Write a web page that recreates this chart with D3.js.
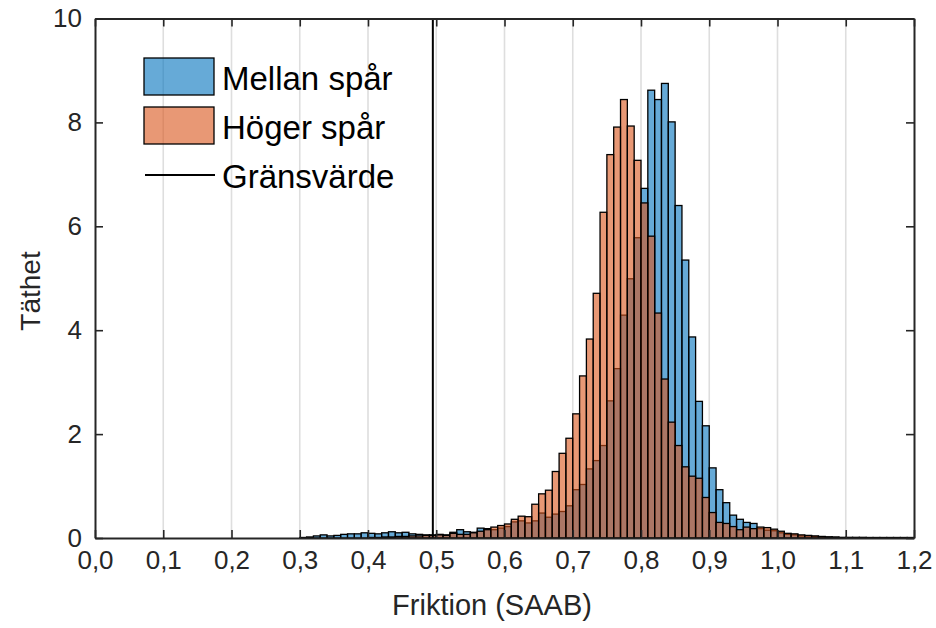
<!DOCTYPE html>
<html>
<head>
<meta charset="utf-8">
<script src="https://cdn.jsdelivr.net/npm/d3@7"></script>
<style>
  body { margin: 0; background: #fff; }
  svg { display: block; font-family: "Liberation Sans", Arial, sans-serif; }
</style>
</head>
<body>
<svg id="chart"></svg>
<script>
// bin left edges, 0.01 wide
let binEdges = d3.range(90).map(i => Math.round((0.30 + i * 0.01) * 100) / 100)

let mellan = [
  0.01, 0.02, 0.04, 0.06, 0.04, 0.05, 0.07, 0.08, 0.08, 0.10,
  0.09, 0.08, 0.10, 0.12, 0.10, 0.11, 0.08, 0.07, 0.06, 0.06,
  0.07, 0.06, 0.11, 0.16, 0.12, 0.11, 0.19, 0.18, 0.16, 0.19,
  0.22, 0.31, 0.33, 0.29, 0.33, 0.48, 0.40, 0.46, 0.51, 0.62,
  0.93, 1.03, 1.33, 1.49, 1.78, 2.64, 3.26, 4.29, 4.99, 5.78,
  6.73, 8.62, 8.44, 8.75, 8.01, 6.40, 5.35, 3.87, 2.63, 2.16,
  1.35, 0.93, 0.68, 0.44, 0.36, 0.30, 0.28, 0.18, 0.15, 0.14,
  0.10, 0.07, 0.06, 0.04, 0.04, 0.03, 0.02, 0.02, 0.01, 0.01,
  0.01, 0.01, 0.01, 0.00, 0.00, 0.00, 0.00, 0.00, 0.00, 0.00
]

let hoger = [
  0.00, 0.00, 0.00, 0.00, 0.00, 0.00, 0.00, 0.00, 0.00, 0.00,
  0.01, 0.01, 0.02, 0.02, 0.03, 0.03, 0.04, 0.04, 0.05, 0.05,
  0.06, 0.05, 0.09, 0.07, 0.07, 0.10, 0.13, 0.16, 0.21, 0.24,
  0.27, 0.36, 0.42, 0.41, 0.65, 0.85, 0.92, 1.28, 1.63, 1.92,
  2.39, 3.12, 3.83, 4.71, 6.27, 7.38, 7.91, 8.44, 7.93, 7.27,
  6.45, 5.81, 4.33, 3.06, 2.23, 1.78, 1.37, 1.19, 1.15, 0.78,
  0.49, 0.30, 0.28, 0.22, 0.16, 0.21, 0.18, 0.21, 0.20, 0.17,
  0.13, 0.09, 0.08, 0.06, 0.05, 0.04, 0.03, 0.02, 0.02, 0.01,
  0.01, 0.01, 0.01, 0.01, 0.01, 0.01, 0.01, 0.01, 0.01, 0.01
]

let binWidth = 0.01
let threshold = 0.495

let xTicks = [0, 0.1, 0.2, 0.3, 0.4, 0.5, 0.6, 0.7, 0.8, 0.9, 1.0, 1.1, 1.2]
let yTicks = [0, 2, 4, 6, 8, 10]

let seriesNames = ["Mellan spår", "Höger spår", "Gränsvärde"]
let seriesColors = ["#0072BD", "#D95319"]

let width = 936
let height = 628
let plotLeft = 95, plotRight = 914, plotTop = 18.5, plotBottom = 538
let axisColor = "#262626"

let svg = d3.select('#chart').attr('width', width).attr('height', height)

let xScale = d3.scaleLinear().domain([0, 1.2]).range([plotLeft, plotRight])
let yScale = d3.scaleLinear().domain([0, 10]).range([plotBottom, plotTop])

// grid (vertical only)
svg.append('g')
  .selectAll('line')
  .data(xTicks.slice(1, -1))
  .enter()
  .append('line')
  .attr('x1', d => xScale(d)).attr('x2', d => xScale(d))
  .attr('y1', plotTop).attr('y2', plotBottom)
  .attr('stroke', '#dedede')
  .attr('stroke-width', 1.6)

let drawBars = (values, color) => {
  svg.append('g')
    .selectAll('rect')
    .data(values.map((v, i) => ({ x0: binEdges[i], v: v })).filter(d => d.v > 0))
    .enter()
    .append('rect')
    .attr('x', d => xScale(d.x0))
    .attr('width', d => xScale(d.x0 + binWidth) - xScale(d.x0))
    .attr('y', d => yScale(d.v))
    .attr('height', d => yScale(0) - yScale(d.v))
    .attr('fill', color)
    .attr('fill-opacity', 0.6)
    .attr('stroke', '#000')
    .attr('stroke-width', 1.3)
}

drawBars(mellan, seriesColors[0])
drawBars(hoger, seriesColors[1])

// threshold line
svg.append('line')
  .attr('x1', xScale(threshold)).attr('x2', xScale(threshold))
  .attr('y1', yScale(10)).attr('y2', yScale(0))
  .attr('stroke', '#000')
  .attr('stroke-width', 2)

// axes
let fmt = d => d3.format('.1f')(d).replace('.', ',')

svg.append('g')
  .attr('transform', 'translate(0,' + plotBottom + ')')
  .call(d3.axisBottom(xScale).tickValues(xTicks).tickFormat(fmt).tickSizeInner(-8).tickSizeOuter(0).tickPadding(13))
svg.append('g')
  .attr('transform', 'translate(0,' + plotTop + ')')
  .call(d3.axisTop(xScale).tickValues(xTicks).tickFormat('').tickSizeInner(-8).tickSizeOuter(0))
svg.append('g')
  .attr('transform', 'translate(' + plotLeft + ',0)')
  .call(d3.axisLeft(yScale).tickValues(yTicks).tickSizeInner(-8).tickSizeOuter(0).tickPadding(13))
svg.append('g')
  .attr('transform', 'translate(' + plotRight + ',0)')
  .call(d3.axisRight(yScale).tickValues(yTicks).tickFormat('').tickSizeInner(-8).tickSizeOuter(0))

svg.selectAll('.domain').attr('stroke', axisColor).attr('stroke-width', 2)
svg.selectAll('.tick line').attr('stroke', axisColor).attr('stroke-width', 1.6)
svg.selectAll('.tick text')
  .attr('fill', axisColor)
  .style('font-size', '26px')
  .style('font-family', '"Liberation Sans", Arial, sans-serif')

// axis labels
svg.append('text')
  .attr('x', 492)
  .attr('y', 615)
  .attr('text-anchor', 'middle')
  .attr('fill', axisColor)
  .style('font-size', '29px')
  .text('Friktion (SAAB)')

svg.append('text')
  .attr('transform', 'translate(40,291) rotate(-90)')
  .attr('text-anchor', 'middle')
  .attr('fill', axisColor)
  .style('font-size', '28px')
  .text('Täthet')

// legend
let legend = svg.append('g')
legend.append('rect')
  .attr('x', 144).attr('y', 58).attr('width', 70).attr('height', 37)
  .attr('fill', seriesColors[0]).attr('fill-opacity', 0.6)
  .attr('stroke', '#000').attr('stroke-width', 1.3)
legend.append('rect')
  .attr('x', 144).attr('y', 107).attr('width', 70).attr('height', 37)
  .attr('fill', seriesColors[1]).attr('fill-opacity', 0.6)
  .attr('stroke', '#000').attr('stroke-width', 1.3)
legend.append('line')
  .attr('x1', 145).attr('x2', 215).attr('y1', 175).attr('y2', 175)
  .attr('stroke', '#000').attr('stroke-width', 2)

let legendY = [90, 139, 188]
legend.selectAll('text')
  .data(seriesNames)
  .enter()
  .append('text')
  .attr('x', 222)
  .attr('y', (d, i) => legendY[i])
  .attr('fill', '#000')
  .style('font-size', '33px')
  .text(d => d)
</script>
</body>
</html>
